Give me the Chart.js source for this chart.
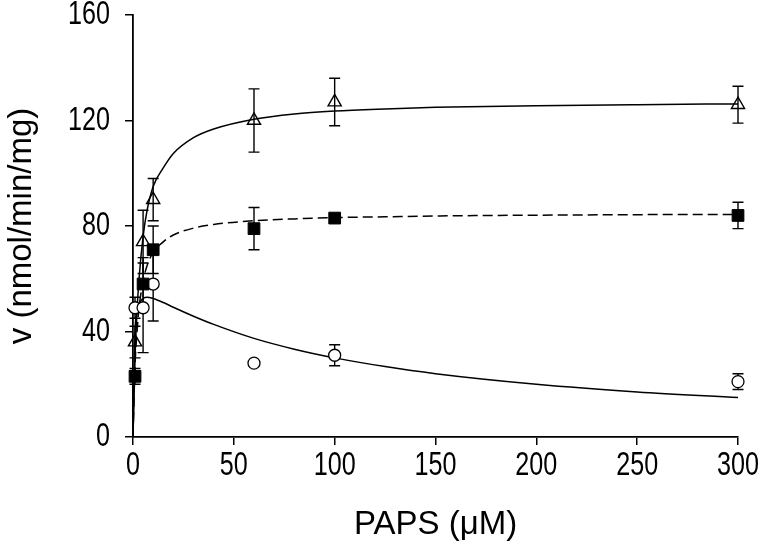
<!DOCTYPE html>
<html><head><meta charset="utf-8">
<script src="https://cdn.jsdelivr.net/npm/chart.js@4.4.1/dist/chart.umd.min.js"></script>
<style>html,body{margin:0;padding:0;background:#fff;}#wrap{width:761px;height:555px;}</style>
</head><body><div id="wrap"><canvas id="c" width="761" height="555"></canvas></div>
<script>
const FONT = "'Liberation Sans', Arial, sans-serif";
const TICK_SIZE = 34, TICK_SQUEEZE = 0.74;
const TITLE_SIZE = 33;

// measured points (PAPS concentration, µM)
const concX = [1, 5, 10, 60, 100, 300];
const triY   = [36, 74, 90, 120, 127, 126];
const triErr = [6, 12, 8, 12, 9, 7];
const sqY    = [23, 58, 71, 79, 83, 84];
const sqErr  = [3, 10, 9, 8, 1, 5];
const cirY   = [49, 49, 58, 28, 31, 21];
const cirErr = [4, 17, 14, 0, 4, 3];

// fitted curves
const curveX = [0, 1, 2, 3, 5, 7, 10, 15, 20, 30, 40, 60, 80, 100, 125, 150, 200, 250, 300];
const triFit = [0, 30, 48, 60, 76, 86, 95, 102, 107.5, 113.5, 116.8, 120.5, 122.5, 123.6, 124.4, 125, 125.6, 126, 126.3];
const sqFit  = [0, 27, 40, 49, 59, 65, 70, 74, 76.6, 79.2, 80.6, 82, 82.7, 83.2, 83.5, 83.8, 84.1, 84.3, 84.4];
const cirFit = [0, 40, 47.5, 50.5, 52.5, 53, 52.5, 51, 49.2, 45.8, 42.7, 37.4, 33.3, 30, 26.7, 24, 20, 17.1, 15];

const xTicks = [0, 50, 100, 150, 200, 250, 300];
const yTicks = [0, 40, 80, 120, 160];

const pts = (xs, ys) => xs.map((x, i) => ({x: x, y: ys[i]}));

const canvas = document.getElementById('c');
const c2d = canvas.getContext('2d');
const origFill = c2d.fillText;
// tick labels in the reference use a tall, condensed face: squeeze them horizontally
c2d.fillText = function (text, x, y, maxWidth) {
  const m = /(\d+(?:\.\d+)?)px/.exec(this.font);
  const size = m ? parseFloat(m[1]) : 0;
  if (size !== TICK_SIZE) return origFill.call(this, text, x, y);
  this.save();
  this.translate(x, y);
  this.scale(TICK_SQUEEZE, 1);
  origFill.call(this, text, 0, 0);
  this.restore();
};

const errorBars = {
  id: 'errorBars',
  beforeDatasetsDraw(chart) {
    const ctx = chart.ctx, ys = chart.scales.y;
    ctx.save();
    ctx.strokeStyle = '#000';
    ctx.lineWidth = 1.4;
    chart.data.datasets.forEach((ds, di) => {
      if (!ds.err) return;
      const meta = chart.getDatasetMeta(di);
      meta.data.forEach((el, i) => {
        const e = ds.err[i];
        if (!e) return;
        const v = ds.data[i].y;
        const yt = ys.getPixelForValue(v + e), yb = ys.getPixelForValue(v - e);
        const x = el.x, cw = 5.5;
        ctx.beginPath();
        ctx.moveTo(x, yt); ctx.lineTo(x, yb);
        ctx.moveTo(x - cw, yt); ctx.lineTo(x + cw, yt);
        ctx.moveTo(x - cw, yb); ctx.lineTo(x + cw, yb);
        ctx.stroke();
      });
    });
    ctx.restore();
  }
};

new Chart(canvas, {
  type: 'scatter',
  data: {
    datasets: [
      {data: pts(concX, sqY), err: sqErr, pointStyle: 'rect', pointRadius: 8.3, backgroundColor: '#000', borderColor: '#000', borderWidth: 1, clip: false},
      {data: pts(concX, triY), err: triErr, pointStyle: 'triangle', pointRadius: 7.6, backgroundColor: 'rgba(0,0,0,0)', borderColor: '#000', borderWidth: 1.4, clip: false},
      {data: pts(concX, cirY), err: cirErr, pointStyle: 'circle', pointRadius: 6, backgroundColor: '#fff', borderColor: '#000', borderWidth: 1.3, clip: false},
      {data: pts(curveX, triFit), showLine: true, pointRadius: 0, borderColor: '#000', borderWidth: 1.5, cubicInterpolationMode: 'monotone', fill: false},
      {data: pts(curveX, sqFit), showLine: true, pointRadius: 0, borderColor: '#000', borderWidth: 1.5, borderDash: [10, 5], cubicInterpolationMode: 'monotone', fill: false},
      {data: pts(curveX, cirFit), showLine: true, pointRadius: 0, borderColor: '#000', borderWidth: 1.5, cubicInterpolationMode: 'monotone', fill: false}
    ]
  },
  options: {
    responsive: false,
    animation: false,
    devicePixelRatio: 1,
    layout: {padding: {top: 15, right: 23, bottom: 0, left: 0}},
    plugins: {legend: {display: false}, tooltip: {enabled: false}},
    scales: {
      x: {
        type: 'linear', min: 0, max: 300,
        afterBuildTicks: s => { s.ticks = xTicks.map(v => ({value: v})); },
        afterFit: s => { s.height = 118; s.paddingLeft = 0; s.paddingRight = 0; },
        grid: {display: true, drawOnChartArea: false, drawTicks: true, tickLength: 8, color: '#000', lineWidth: 1.5},
        border: {display: true, color: '#000', width: 1.8},
        ticks: {color: '#000', padding: 0, font: {family: FONT, size: TICK_SIZE}, maxRotation: 0, autoSkip: false},
        title: {display: true, text: 'PAPS (\u03bcM)', color: '#000', font: {family: FONT, size: TITLE_SIZE}, padding: {top: 0, bottom: 10}}
      },
      y: {
        type: 'linear', min: 0, max: 160,
        afterBuildTicks: s => { s.ticks = yTicks.map(v => ({value: v})); },
        afterFit: s => { s.width = 133; s.paddingTop = 0; s.paddingBottom = 0; },
        grid: {display: true, drawOnChartArea: false, drawTicks: true, tickLength: 8, color: '#000', lineWidth: 1.5},
        border: {display: true, color: '#000', width: 1.8},
        ticks: {color: '#000', padding: 15, font: {family: FONT, size: TICK_SIZE}, autoSkip: false},
        title: {display: true, text: 'v (nmol/min/mg)', color: '#000', font: {family: FONT, size: TITLE_SIZE}, padding: {top: 2, bottom: 0}}
      }
    }
  },
  plugins: [errorBars]
});
</script>
</body></html>
